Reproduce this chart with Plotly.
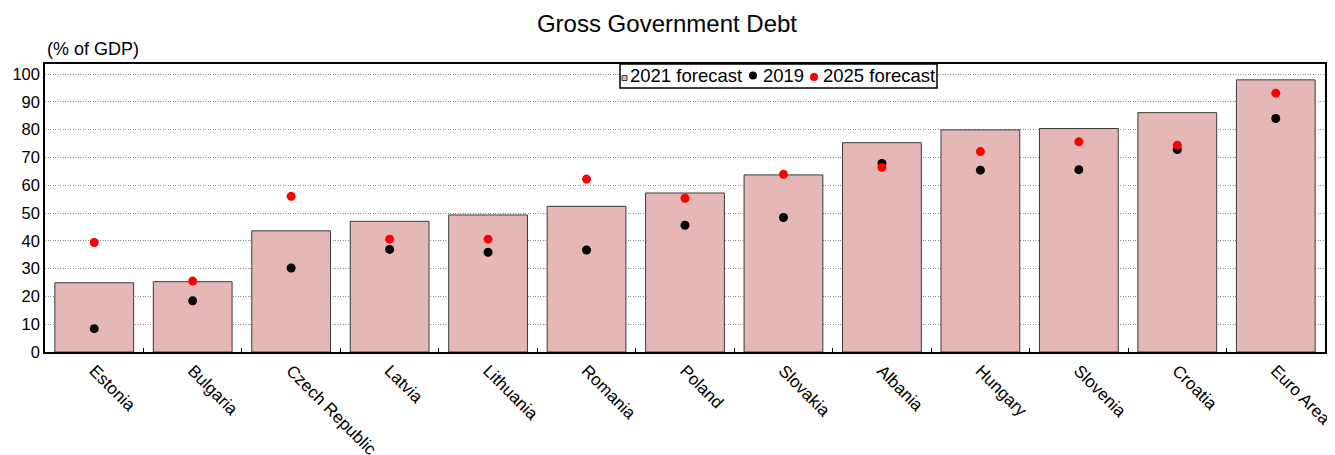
import plotly.graph_objects as go

countries = ["Estonia", "Bulgaria", "Czech Republic", "Latvia", "Lithuania", "Romania",
             "Poland", "Slovakia", "Albania", "Hungary", "Slovenia", "Croatia", "Euro Area"]
debt_2021 = [24.9, 25.3, 43.6, 47.0, 49.3, 52.4, 57.2, 63.7, 75.3, 79.9, 80.4, 86.1, 97.9]
debt_2019 = [8.4, 18.4, 30.2, 36.9, 35.9, 36.7, 45.6, 48.4, 67.8, 65.4, 65.6, 72.8, 84.0]
debt_2025 = [39.4, 25.5, 56.0, 40.6, 40.6, 62.2, 55.3, 63.9, 66.4, 72.1, 75.6, 74.4, 93.1]
legend_labels = ["2021 forecast", "2019", "2025 forecast"]

font = "Liberation Sans, Arial, sans-serif"
BAR_FILL = "#e5b8b7"
BAR_LINE = "#3a3a3a"

# the page body has an 8px default margin; work in screen pixels and convert
OFF = 8
W, H = 1335 - OFF, 455 - OFF
PL, PR, PT, PB = 45, 1325, 64, 352          # plot area in screen pixels
ML, MR, MT, MB = PL - OFF, W - (PR - OFF), PT - OFF, H - (PB - OFF)
PW, PH = PR - PL, PB - PT


def px_x(px):
    return (px - PL) / PW


def px_y(py):
    return (PB - py) / PH


fig = go.Figure()
fig.add_trace(go.Bar(x=countries, y=debt_2021, name=legend_labels[0],
                     marker=dict(color=BAR_FILL, line=dict(color=BAR_LINE, width=1))))
fig.add_trace(go.Scatter(x=countries, y=debt_2019, name=legend_labels[1], mode="markers",
                         marker=dict(color="black", size=9)))
fig.add_trace(go.Scatter(x=countries, y=debt_2025, name=legend_labels[2], mode="markers",
                         marker=dict(color="red", size=9)))

# compact legend box drawn in paper coordinates
shapes = [
    dict(type="rect", xref="paper", yref="paper", x0=px_x(620), x1=px_x(937),
         y0=px_y(88), y1=px_y(64), line=dict(color="black", width=1.5), fillcolor="white",
         layer="above"),
    dict(type="rect", xref="paper", yref="paper", xsizemode="pixel", ysizemode="pixel",
         xanchor=px_x(624.5), yanchor=px_y(78), x0=-2.5, x1=2.5, y0=-2.5, y1=2.5,
         line=dict(color=BAR_LINE, width=1), fillcolor=BAR_FILL, layer="above"),
    dict(type="circle", xref="paper", yref="paper", xsizemode="pixel", ysizemode="pixel",
         xanchor=px_x(753), yanchor=px_y(75.5), x0=-4, x1=4, y0=-4, y1=4,
         line=dict(width=0), fillcolor="black", layer="above"),
    dict(type="circle", xref="paper", yref="paper", xsizemode="pixel", ysizemode="pixel",
         xanchor=px_x(814), yanchor=px_y(77), x0=-4, x1=4, y0=-4, y1=4,
         line=dict(width=0), fillcolor="red", layer="above"),
]
legend_x = [628, 761, 821]
annotations = [dict(text="(% of GDP)", x=0, xref="paper", xanchor="left",
                    y=px_y(49), yref="paper", yanchor="middle",
                    showarrow=False, font=dict(size=18, family=font, color="black"))]
for lx, lab in zip(legend_x, legend_labels):
    annotations.append(dict(text=lab, x=px_x(lx), xref="paper", xanchor="left",
                            y=px_y(75.5), yref="paper", yanchor="middle", showarrow=False,
                            font=dict(size=18.5, family=font, color="black")))

fig.update_layout(
    width=W, height=H,
    margin=dict(l=ML, r=MR, t=MT, b=MB),
    paper_bgcolor="white", plot_bgcolor="white",
    font=dict(family=font, size=16, color="black"),
    title=dict(text="Gross Government Debt", x=(667 - OFF) / W, xanchor="center",
               y=1 - (24 - OFF) / H, yanchor="middle",
               font=dict(size=24, family=font, color="black")),
    bargap=0.2,
    showlegend=False,
    shapes=shapes,
    annotations=annotations,
)
fig.update_xaxes(type="category", range=[-0.5, len(countries) - 0.5], tickangle=45,
                 showline=True, linecolor="black", linewidth=2,
                 mirror=True, ticks="inside", tickson="boundaries", ticklen=4, tickcolor="black",
                 showgrid=False, tickfont=dict(size=17), automargin=False)
fig.update_yaxes(range=[0, 103.6], dtick=10, showline=True, linecolor="black", linewidth=1.5,
                 mirror=True, showgrid=True, gridcolor="#8c8c8c", griddash="1px,1.5px",
                 gridwidth=1, ticks="", tickfont=dict(size=16.5), zeroline=False,
                 automargin=False)

fig.write_html("out.html")
